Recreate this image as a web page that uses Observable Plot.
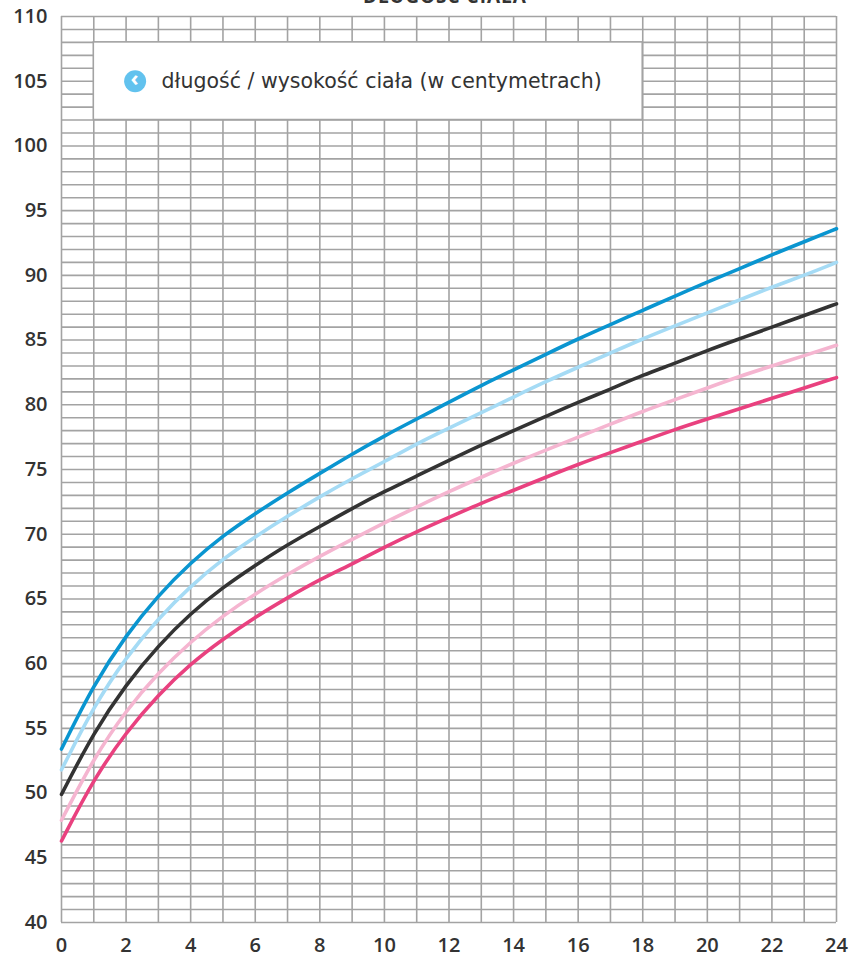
<!DOCTYPE html>
<html>
<head>
<meta charset="utf-8">
<script src="https://cdn.jsdelivr.net/npm/d3@7"></script>
<script src="https://cdn.jsdelivr.net/npm/@observablehq/plot@0.6"></script>
<style>
  body { margin: 0; background: #fff; font-family: "Open Sans", sans-serif; }
  #wrap { position: relative; width: 851px; height: 958px; overflow: hidden; }
  #title { position: absolute; top: -17px; left: 0; width: 890px; text-align: center; font-size: 19px; font-weight: 700; color: #333; letter-spacing: 1px; }
</style>
</head>
<body>
<div id="wrap">
<div id="title">DŁUGOŚĆ CIAŁA</div>
<div id="chart"></div>
</div>
<script>
const months = d3.range(0, 25);
const p3  = [46.3,51.1,54.7,57.6,60.0,61.9,63.6,65.1,66.5,67.7,69.0,70.2,71.3,72.4,73.4,74.4,75.4,76.3,77.2,78.1,78.9,79.7,80.5,81.3,82.1];
const p15 = [47.9,52.7,56.4,59.3,61.7,63.7,65.4,66.9,68.3,69.6,70.9,72.1,73.3,74.4,75.5,76.5,77.5,78.5,79.5,80.4,81.3,82.2,83.0,83.8,84.6];
const p50 = [49.9,54.7,58.4,61.4,63.9,65.9,67.6,69.2,70.6,72.0,73.3,74.5,75.7,76.9,78.0,79.1,80.2,81.2,82.3,83.2,84.2,85.1,86.0,86.9,87.8];
const p85 = [51.8,56.7,60.5,63.5,66.0,68.1,69.8,71.4,72.9,74.3,75.6,77.0,78.2,79.4,80.6,81.8,82.9,84.0,85.1,86.1,87.1,88.1,89.1,90.0,91.0];
const p97 = [53.4,58.4,62.2,65.3,67.8,69.9,71.6,73.2,74.7,76.2,77.6,78.9,80.2,81.5,82.7,83.9,85.1,86.2,87.3,88.4,89.5,90.5,91.6,92.6,93.6];
const seriesNames = ["p3","p15","p50","p85","p97"];
const seriesColors = ["#e9417f","#f5b5d0","#333333","#a5dbf5","#0a95d0"];
const xTicks = d3.range(0, 25, 2);
const yTicks = d3.range(40, 111, 5);
const legendLabel = "długość / wysokość ciała (w centymetrach)";

const allSeries = [p3, p15, p50, p85, p97];
const rows = allSeries.flatMap((arr, i) => arr.map((v, j) => ({series: seriesNames[i], month: months[j], value: v})));

const gridColor = "#a3a3a3";
const chart = Plot.plot({
  width: 851,
  height: 958,
  marginLeft: 61,
  marginRight: 15,
  marginTop: 16,
  marginBottom: 36,
  style: {fontFamily: "Open Sans, sans-serif", fontSize: "20px", fontWeight: 600, color: "#333", background: "transparent"},
  x: {domain: [0, 24], ticks: xTicks, tickSize: 0, tickPadding: 15, label: null},
  y: {domain: [40, 110], ticks: yTicks, tickSize: 0, tickPadding: 14, label: null},
  color: {domain: seriesNames, range: seriesColors},
  marks: [
    Plot.ruleX(d3.range(0, 25), {stroke: gridColor, strokeWidth: 1.6}),
    Plot.ruleY(d3.range(40, 111), {stroke: gridColor, strokeWidth: 1.6}),
    Plot.rect([{x1: 1, x2: 18, y1: 102, y2: 108}], {x1: "x1", x2: "x2", y1: "y1", y2: "y2", fill: "white", stroke: gridColor, strokeWidth: 1.6}),
    Plot.dot([{x: 2.28, y: 105.0}], {x: "x", y: "y", r: 11, fill: "#62c2ee"}),
    Plot.text([{x: 2.26, y: 105.0}], {x: "x", y: "y", text: () => "‹", fill: "white", fontSize: 22, fontWeight: 700, dy: -2}),
    Plot.text([{x: 3.1, y: 105.0}], {x: "x", y: "y", text: () => legendLabel, textAnchor: "start", fill: "#333", fontSize: 20.5, fontWeight: 400, fontFamily: "DejaVu Sans, sans-serif"}),
    Plot.line(rows, {x: "month", y: "value", z: "series", stroke: "series", strokeWidth: 3.6, curve: "basis"})
  ]
});
document.getElementById("chart").appendChild(chart);
</script>
</body>
</html>
